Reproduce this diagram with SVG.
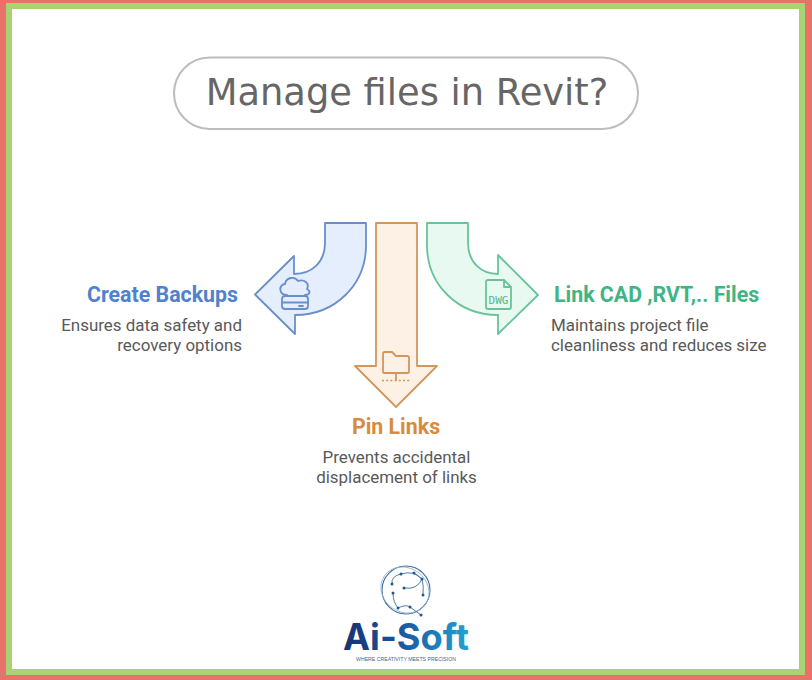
<svg xmlns="http://www.w3.org/2000/svg" width="812" height="680" viewBox="0 0 812 680">
<style>
.lbl{font-family:Roboto,"Liberation Sans",sans-serif;font-weight:700;font-size:21.350px}
.desc{font-family:Roboto,"Liberation Sans",sans-serif;font-size:16.950px;fill:#595959}
.blue{fill:#e5eefc;stroke:#6a8fc8;stroke-width:1.800;stroke-linejoin:round}
.orange{fill:#fdf0e4;stroke:#d2975c;stroke-width:1.800;stroke-linejoin:round}
.green{fill:#e8f9f1;stroke:#68c39a;stroke-width:1.800;stroke-linejoin:round}
.ic{fill:none;stroke-width:1.800;stroke-linejoin:round;stroke-linecap:round}
.net{fill:none;stroke:#4f7ca8;stroke-width:1}
.dot{fill:#1d5a8c}
</style>
<defs>
<linearGradient id="lg" gradientUnits="userSpaceOnUse" x1="343" y1="0" x2="469" y2="0">
<stop offset="0" stop-color="#16336f"/><stop offset="0.4" stop-color="#1a4f9c"/><stop offset="1" stop-color="#1fa3d2"/>
</linearGradient>
</defs>
<rect width="812" height="680" fill="#e8716a"/>
<rect x="6" y="3" width="799" height="672" fill="#a9d272"/>
<rect x="12" y="9" width="787" height="660" fill="#fff"/>

<g id="title">
<rect x="174" y="57.500" width="464" height="71.500" rx="35.700" fill="#fff" stroke="#bdbdbd" stroke-width="2"/>
<text x="407" y="105" text-anchor="middle" font-family="'DejaVu Sans',sans-serif" font-size="36.800" fill="#666">Manage files in Revit?</text>
</g>

<g id="node-backups">
<path class="blue" d="M325 223H366V245C366 285 335 315 295 315V334L255 294.500L294 256V274C312 274 325 262 325 243Z"/>
<g class="ic" stroke="#6a8fc8">
<path d="M287 295C279 295 278 285 285 284C286 277 295 276 298 281C304 279 310 283 307 289C311 291 310 295 305 295"/>
<rect x="282" y="296" width="26" height="13" rx="3"/>
<path d="M282 302.500H308M299 306H303"/>
</g>
<text class="lbl" x="238" y="302" text-anchor="end" fill="#4f81cf">Create Backups</text>
<text class="desc" x="242" y="331" text-anchor="end">Ensures data safety and</text>
<text class="desc" x="242" y="351" text-anchor="end">recovery options</text>
</g>

<g id="node-pin">
<path class="orange" d="M376 223H417V366H437L396 407L355 366H376Z"/>
<g class="ic" stroke="#d2975c">
<path d="M383 372V354Q383 352 385 352H392L396 356H407Q409 356 409 358V372Q409 373 407 373H385Q383 373 383 372Z"/>
<path d="M396 373V380"/>
<path d="M382 380.500H411" stroke-dasharray="2 2.200" stroke-width="1.300" stroke-linecap="butt"/>
</g>
<text class="lbl" x="396" y="434" text-anchor="middle" fill="#d98a3d">Pin Links</text>
<text class="desc" x="396.500" y="463" text-anchor="middle">Prevents accidental</text>
<text class="desc" x="396.500" y="483" text-anchor="middle">displacement of links</text>
</g>

<g id="node-link">
<path class="green" d="M427 223H468V243C468 262 481 274 498 274V255L538 295L498 334V315C458 315 427 285 427 245Z"/>
<g class="ic" stroke="#68c39a">
<path d="M488 280H504L511 287V307Q511 309 509 309H488Q486 309 486 307V282Q486 280 488 280ZM504 280V287H511"/>
</g>
<text x="498.500" y="304" text-anchor="middle" font-family="'DejaVu Sans Mono',monospace" font-size="11" fill="#4fb888">DWG</text>
<text class="lbl" x="554" y="302" fill="#3fb583">Link CAD ,RVT,.. Files</text>
<text class="desc" x="551" y="331">Maintains project file</text>
<text class="desc" x="551" y="351">cleanliness and reduces size</text>
</g>

<g id="logo">
<circle cx="406" cy="590" r="24" fill="none" stroke="#3f6f9c" stroke-width="1.100"/>
<ellipse cx="405" cy="590" rx="25" ry="22" transform="rotate(35 405 590)" fill="none" stroke="#8fb6cf" stroke-width="0.800"/>
<path class="net" d="M401 574Q414 570 422 579M401 574Q391 576 392 584M404 588Q417 590 422 579M393 593Q393 602 398 608M398 608Q406 604 410 607L421 615M423 595Q424 586 422 579M414 573L422 579"/>
<g class="dot">
<circle cx="401" cy="574" r="1.500"/><circle cx="414" cy="573" r="1.500"/><circle cx="422" cy="579" r="1.500"/><circle cx="392" cy="584" r="1.500"/><circle cx="404" cy="588" r="1.500"/><circle cx="393" cy="593" r="1.500"/><circle cx="423" cy="595" r="1.500"/><circle cx="398" cy="608" r="1.500"/><circle cx="410" cy="607" r="1.500"/><circle cx="421" cy="615" r="1.500"/>
</g>
<text x="406" y="650" text-anchor="middle" font-family="Inter,'Liberation Sans',sans-serif" font-weight="700" font-size="37" textLength="126" lengthAdjust="spacingAndGlyphs" fill="url(#lg)">Ai-Soft</text>
<text x="406" y="660.500" text-anchor="middle" font-family="'Liberation Sans',Arial,sans-serif" font-size="5.500" textLength="100" lengthAdjust="spacingAndGlyphs" fill="#4a5f86">WHERE CREATIVITY MEETS PRECISION</text>
</g>
</svg>
